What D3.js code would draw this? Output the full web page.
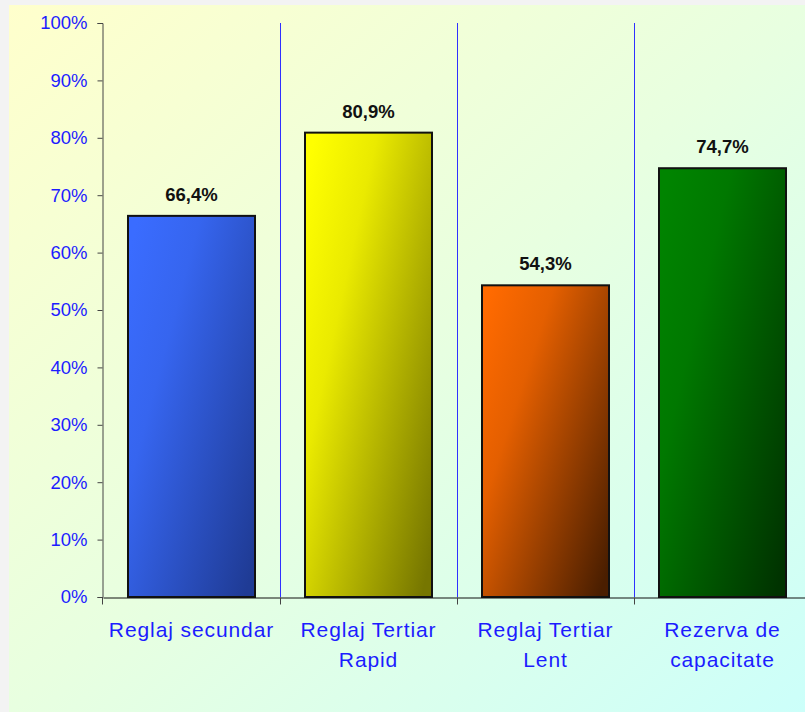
<!DOCTYPE html>
<html>
<head>
<meta charset="utf-8">
<script src="https://cdn.jsdelivr.net/npm/d3@7"></script>
<style>
  html, body { margin: 0; padding: 0; background: #f3f3f3; }
  svg { display: block; }
</style>
</head>
<body>
<svg id="chart" width="805" height="712"></svg>
<script>
// data
const categories = ['Reglaj secundar', 'Reglaj Tertiar Rapid', 'Reglaj Tertiar Lent', 'Rezerva de capacitate'];
const categoryLines = [['Reglaj secundar'], ['Reglaj Tertiar', 'Rapid'], ['Reglaj Tertiar', 'Lent'], ['Rezerva de', 'capacitate']];
const values = [66.4, 80.9, 54.3, 74.7];
const valueLabels = ['66,4%', '80,9%', '54,3%', '74,7%'];
const yTicks = [0, 10, 20, 30, 40, 50, 60, 70, 80, 90, 100];

// colours: [light, dark] per bar
const barColors = [['#3a6cff', '#1f3b95'], ['#ffff00', '#767600'], ['#ff6a00', '#4a1e00'], ['#008400', '#003300']];

const svg = d3.select('#chart');
const defs = svg.append('defs');

const bg = defs.append('linearGradient').attr('id', 'bg')
    .attr('x1', '0').attr('y1', '0').attr('x2', '1').attr('y2', '1');
bg.append('stop').attr('offset', '0%').attr('stop-color', '#ffffcc');
bg.append('stop').attr('offset', '50%').attr('stop-color', '#e8ffe0');
bg.append('stop').attr('offset', '100%').attr('stop-color', '#ccfffa');

barColors.forEach((c, i) => {
    const g = defs.append('linearGradient').attr('id', 'bar' + i)
        .attr('x1', '0').attr('y1', '0.1').attr('x2', '1').attr('y2', '0.9');
    g.append('stop').attr('offset', '0%').attr('stop-color', c[0]);
    g.append('stop').attr('offset', '30%').attr('stop-color', d3.interpolateRgb(c[0], c[1])(0.15));
    g.append('stop').attr('offset', '100%').attr('stop-color', c[1]);
});

// chart area
svg.append('rect').attr('x', 9).attr('y', 5).attr('width', 796).attr('height', 707).attr('fill', 'url(#bg)');

const x = d3.scaleBand().domain(categories).range([103, 811]).padding(0);
const y = d3.scaleLinear().domain([0, 100]).range([597, 23]);
const inset = 25;

// vertical separators
svg.append('g').attr('shape-rendering', 'crispEdges').selectAll('line')
    .data(categories.slice(1))
    .join('line')
    .attr('x1', d => Math.round(x(d)) + 0.5).attr('x2', d => Math.round(x(d)) + 0.5)
    .attr('y1', y(100)).attr('y2', y(0))
    .attr('stroke', '#3030ff').attr('stroke-width', 1);

// bars
svg.append('g').selectAll('rect')
    .data(values)
    .join('rect')
    .attr('x', (d, i) => Math.round(x(categories[i]) + inset))
    .attr('width', Math.round(x.bandwidth() - 2 * inset))
    .attr('y', d => y(d))
    .attr('height', d => y(0) - y(d))
    .attr('fill', (d, i) => `url(#bar${i})`)
    .attr('stroke', '#111').attr('stroke-width', 2);

// value labels
svg.append('g').selectAll('text')
    .data(values)
    .join('text')
    .attr('x', (d, i) => x(categories[i]) + x.bandwidth() / 2)
    .attr('y', d => y(d) - 15)
    .attr('text-anchor', 'middle')
    .attr('font-family', 'Liberation Sans, Arial, sans-serif')
    .attr('font-weight', 'bold')
    .attr('font-size', 18.5)
    .attr('fill', '#111')
    .text((d, i) => valueLabels[i]);

// y axis
const yAxis = svg.append('g').attr('transform', 'translate(102.5,0)')
    .call(d3.axisLeft(y).tickValues(yTicks).tickSize(5).tickPadding(10).tickFormat(d => d + '%'));
yAxis.select('.domain').attr('stroke', '#444');
yAxis.selectAll('.tick line').attr('stroke', '#444');
yAxis.selectAll('text')
    .attr('font-family', 'Liberation Sans, Arial, sans-serif')
    .attr('font-size', 18.5).attr('fill', '#1c1cff');

// x axis
const xAxis = svg.append('g').attr('transform', `translate(0,${y(0) + 0.5})`)
    .call(d3.axisBottom(x).tickSize(0).tickFormat(''));
xAxis.select('.domain').attr('stroke', '#111');
xAxis.selectAll('.tick').remove();
xAxis.selectAll('line.edge')
    .data(categories)
    .join('line')
    .attr('class', 'edge')
    .attr('x1', (d, i) => i === 0 ? 102.5 : Math.round(x(d)) + 0.5)
    .attr('x2', (d, i) => i === 0 ? 102.5 : Math.round(x(d)) + 0.5)
    .attr('y1', 0).attr('y2', 7)
    .attr('stroke', '#444');

// category labels
const catText = svg.append('g').selectAll('text')
    .data(categoryLines)
    .join('text')
    .attr('text-anchor', 'middle')
    .attr('font-family', 'Liberation Sans, Arial, sans-serif')
    .attr('font-size', 21)
    .attr('letter-spacing', 0.9)
    .attr('fill', '#1c1cff');
catText.each(function (lines, i) {
    d3.select(this).selectAll('tspan')
        .data(lines)
        .join('tspan')
        .attr('x', x(categories[i]) + x.bandwidth() / 2)
        .attr('y', (d, j) => 637 + j * 30)
        .text(d => d);
});
</script>
</body>
</html>
